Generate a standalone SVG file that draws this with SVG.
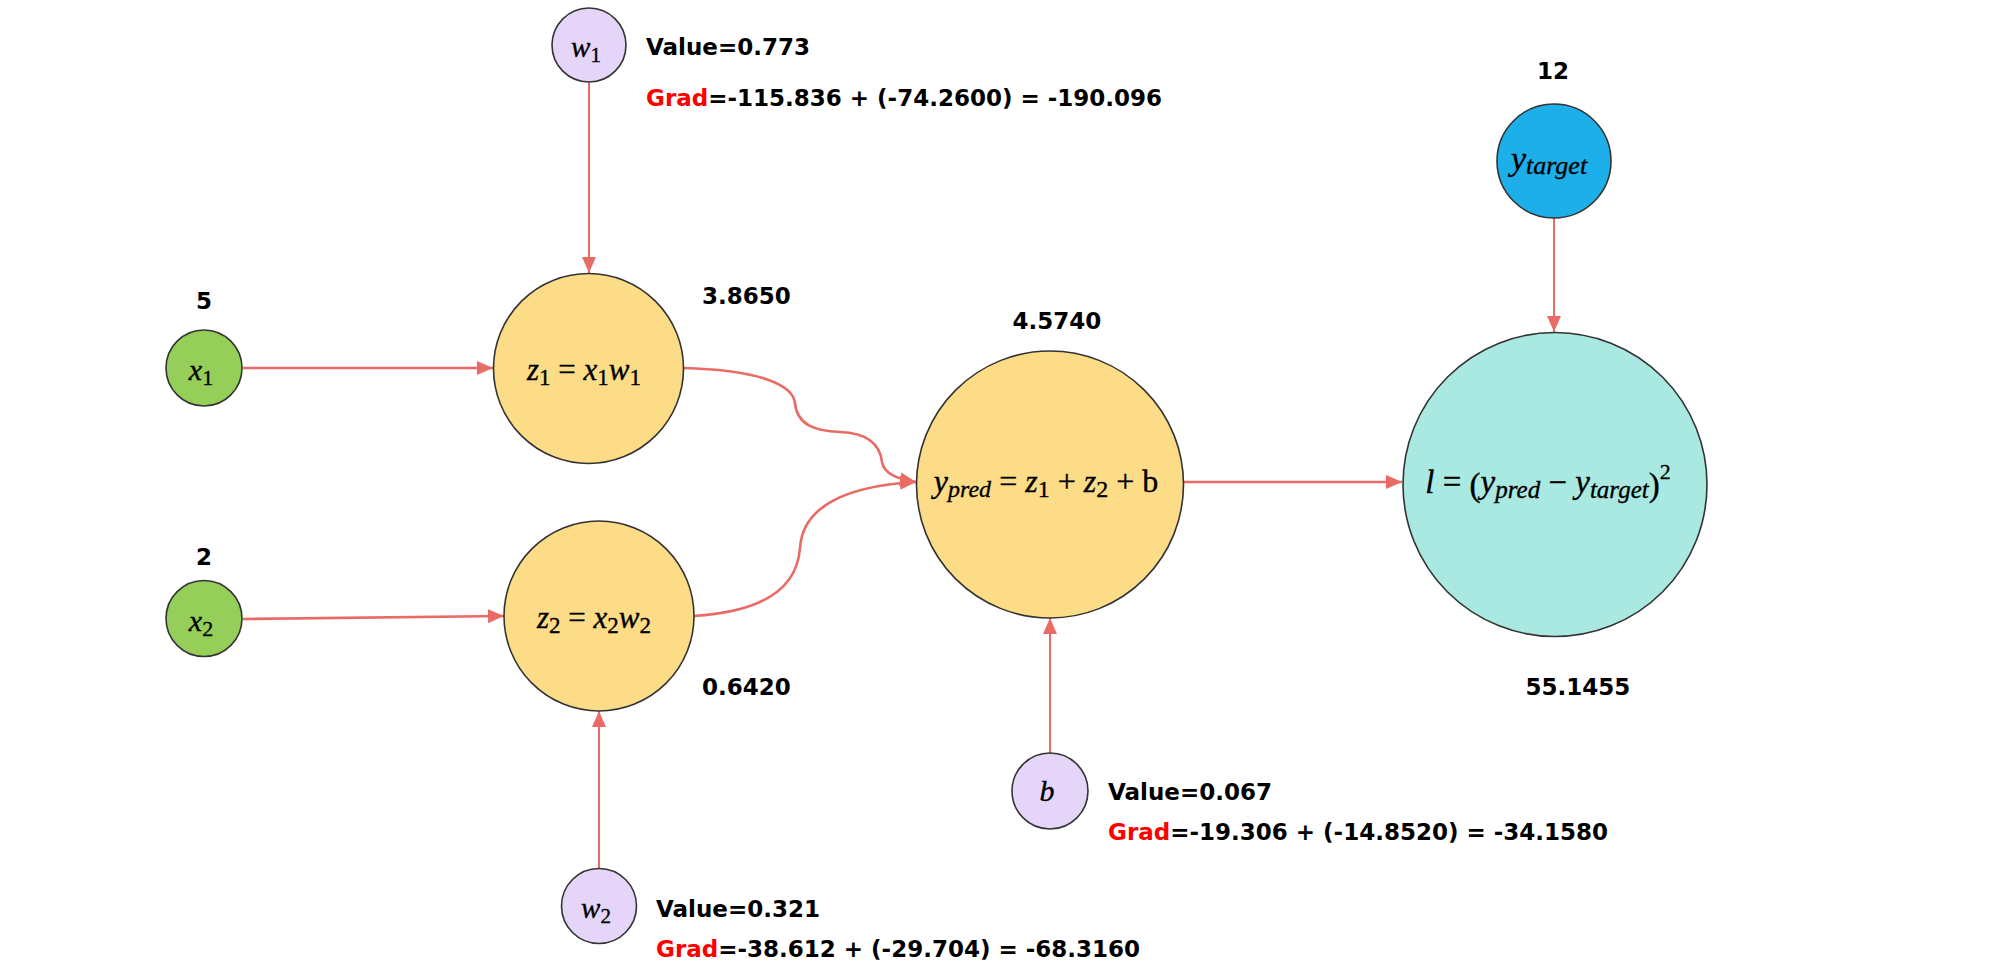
<svg xmlns="http://www.w3.org/2000/svg" width="1994" height="966" viewBox="0 0 1994 966">
<style>
.node{stroke:#333333;stroke-width:1.6}
.yellow{fill:#FDDC88}
.green{fill:#95CE58}
.lav{fill:#E5D6F9}
.cyan{fill:#AAE9E2}
.blue{fill:#1DAFEA}
.edge{fill:none;stroke:#EA6B66;stroke-width:2.6}
.thin{stroke-width:2}
.lbl{font-family:"DejaVu Sans","Liberation Sans",sans-serif;font-weight:bold;font-size:23px;fill:#000}
.red{fill:#FF0000}
.math{font-family:"Liberation Serif","DejaVu Serif",serif;font-style:italic;fill:#000;stroke:#000;stroke-width:0.35}
.up{font-style:normal}
</style>
<defs>
<marker id="arr" markerUnits="userSpaceOnUse" markerWidth="17" markerHeight="15" refX="16" refY="7" orient="auto">
<path d="M0,0 L16,7 L0,14 Z" fill="#EA6B66"/>
</marker>
</defs>
<rect width="1994" height="966" fill="#FFFFFF"/>
<g id="connectors">
<path class="edge thin" d="M589,82 L589,273" marker-end="url(#arr)"/>
<path class="edge" d="M243,368 L493,368" marker-end="url(#arr)"/>
<path class="edge" d="M243,619 L504,616" marker-end="url(#arr)"/>
<path class="edge thin" d="M599,868 L599,711" marker-end="url(#arr)"/>
<path class="edge" d="M683,368 C760,370 793,385 795,403 C797,425 815,431 840,432 C868,433 880,445 882,462 C884,474 898,479 916,482" marker-end="url(#arr)"/>
<path class="edge" d="M694,616 C760,612 797,590 800,548 C803,500 860,485 916,482" marker-end="url(#arr)"/>
<path class="edge" d="M1183,482 L1402,482" marker-end="url(#arr)"/>
<path class="edge thin" d="M1554,218 L1554,332" marker-end="url(#arr)"/>
<path class="edge thin" d="M1050,753 L1050,618" marker-end="url(#arr)"/>
</g>
<g id="node-w1">
<circle class="node lav" cx="589" cy="45" r="37"/>
<text class="math" x="586" y="57" text-anchor="middle" font-size="29">w<tspan class="up" font-size="21" dy="5">1</tspan></text>
<text class="lbl" x="646" y="55">Value=0.773</text>
<text class="lbl" x="646" y="106"><tspan class="red">Grad</tspan>=-115.836 + (-74.2600) = -190.096</text>
</g>
<g id="node-x1">
<circle class="node green" cx="204" cy="368" r="38"/>
<text class="math" x="201" y="380" text-anchor="middle" font-size="30">x<tspan class="up" font-size="22" dy="5">1</tspan></text>
<text class="lbl" x="204" y="309" text-anchor="middle">5</text>
</g>
<g id="node-z1">
<circle class="node yellow" cx="588.5" cy="368.5" r="95"/>
<text class="math" x="584" y="380" text-anchor="middle" font-size="31">z<tspan class="up" font-size="23" dy="5">1</tspan><tspan class="up" dy="-5"> = </tspan>x<tspan class="up" font-size="23" dy="5">1</tspan><tspan dy="-5">w</tspan><tspan class="up" font-size="23" dy="5">1</tspan></text>
<text class="lbl" x="702" y="304">3.8650</text>
</g>
<g id="node-x2">
<circle class="node green" cx="204" cy="618.5" r="38"/>
<text class="math" x="201" y="630.5" text-anchor="middle" font-size="30">x<tspan class="up" font-size="22" dy="5">2</tspan></text>
<text class="lbl" x="204" y="565" text-anchor="middle">2</text>
</g>
<g id="node-z2">
<circle class="node yellow" cx="599" cy="616" r="95"/>
<text class="math" x="594" y="628" text-anchor="middle" font-size="31">z<tspan class="up" font-size="23" dy="5">2</tspan><tspan class="up" dy="-5"> = </tspan>x<tspan class="up" font-size="23" dy="5">2</tspan><tspan dy="-5">w</tspan><tspan class="up" font-size="23" dy="5">2</tspan></text>
<text class="lbl" x="702" y="695">0.6420</text>
</g>
<g id="node-w2">
<circle class="node lav" cx="599" cy="906" r="37.5"/>
<text class="math" x="596" y="918" text-anchor="middle" font-size="29">w<tspan class="up" font-size="21" dy="5">2</tspan></text>
<text class="lbl" x="656" y="917">Value=0.321</text>
<text class="lbl" x="656" y="957"><tspan class="red">Grad</tspan>=-38.612 + (-29.704) = -68.3160</text>
</g>
<g id="node-ypred">
<circle class="node yellow" cx="1050" cy="484.5" r="133.5"/>
<text class="math" x="1046" y="492" text-anchor="middle" font-size="32">y<tspan font-size="24" dy="5">pred</tspan><tspan class="up" dy="-5"> = </tspan>z<tspan class="up" font-size="24" dy="5">1</tspan><tspan class="up" dy="-5"> + </tspan>z<tspan class="up" font-size="24" dy="5">2</tspan><tspan class="up" dy="-5"> + b</tspan></text>
<text class="lbl" x="1057" y="329" text-anchor="middle">4.5740</text>
</g>
<g id="node-b">
<circle class="node lav" cx="1050" cy="791" r="38"/>
<text class="math" x="1047" y="801" text-anchor="middle" font-size="30">b</text>
<text class="lbl" x="1108" y="800">Value=0.067</text>
<text class="lbl" x="1108" y="840"><tspan class="red">Grad</tspan>=-19.306 + (-14.8520) = -34.1580</text>
</g>
<g id="node-ytarget">
<circle class="node blue" cx="1554" cy="161" r="57"/>
<text class="math" x="1549" y="170" text-anchor="middle" font-size="34">y<tspan font-size="26" dy="4">target</tspan></text>
<text class="lbl" x="1553" y="79" text-anchor="middle">12</text>
</g>
<g id="node-l">
<circle class="node cyan" cx="1555" cy="484.5" r="152"/>
<text class="math" x="1548" y="493" text-anchor="middle" font-size="33">l<tspan class="up"> = </tspan><tspan class="up" dy="3">(</tspan><tspan dy="-3">y</tspan><tspan font-size="25" dy="5">pred</tspan><tspan class="up" dy="-5"> − </tspan>y<tspan font-size="25" dy="5">target</tspan><tspan class="up" dy="-2">)</tspan><tspan class="up" font-size="22" dy="-17">2</tspan></text>
<text class="lbl" x="1578" y="695" text-anchor="middle">55.1455</text>
</g>
</svg>
